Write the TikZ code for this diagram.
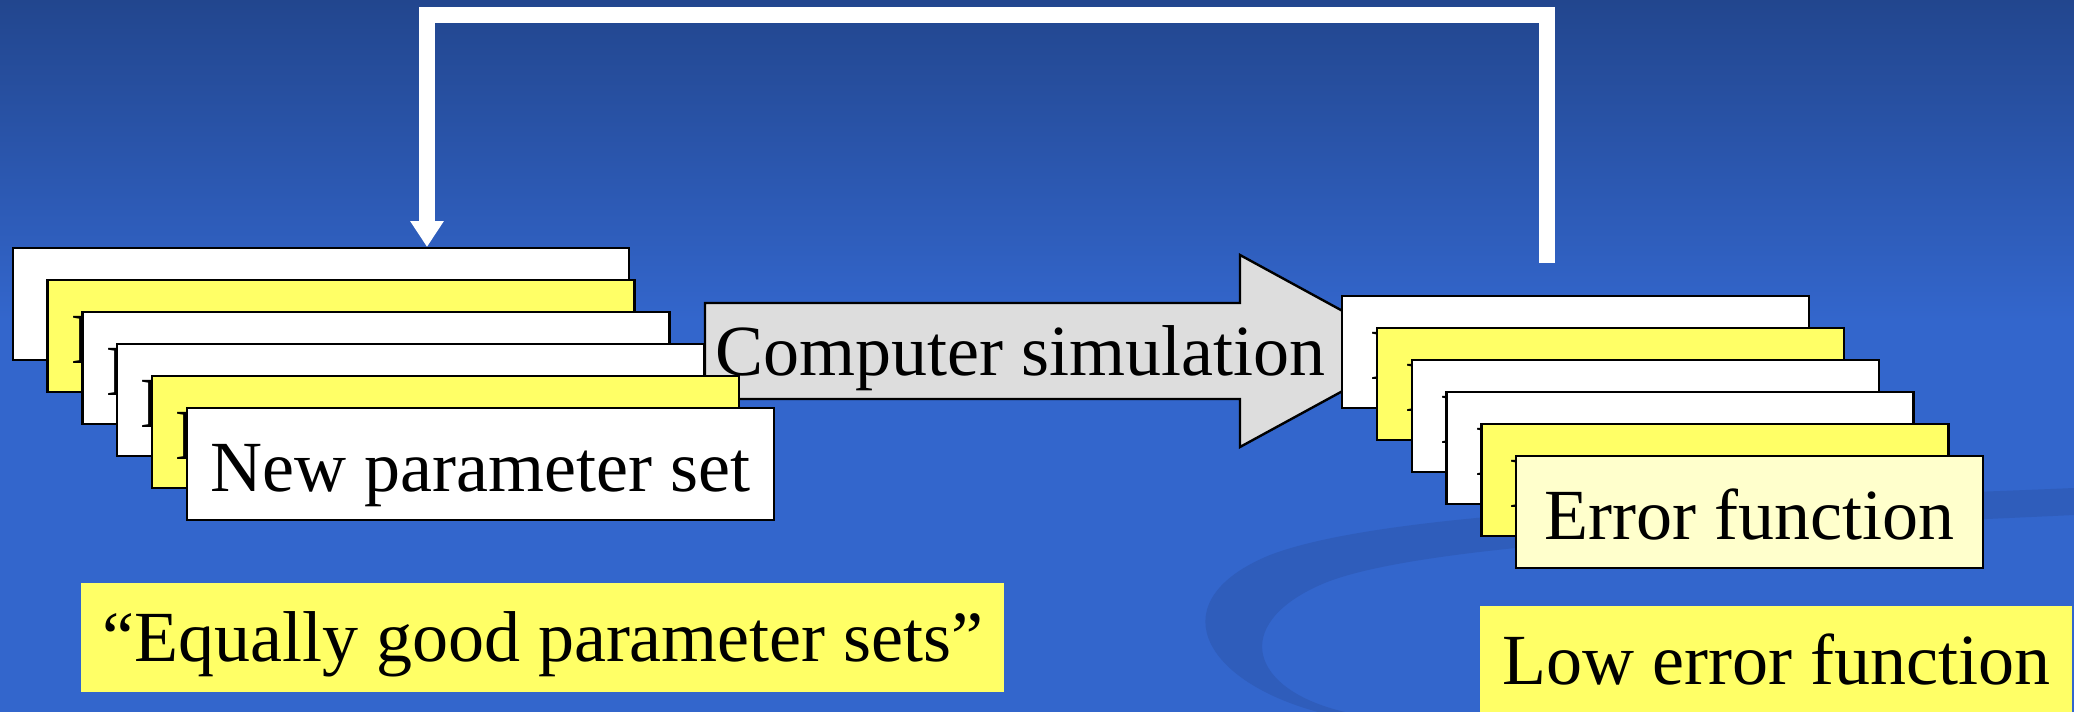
\documentclass[tikz,border=0pt]{standalone}
\usepackage{fontspec}
\setmainfont{Liberation Serif}
\usetikzlibrary{arrows.meta}
\definecolor{slideblue}{HTML}{3366CC}
\definecolor{slidetop}{HTML}{22468E}
\definecolor{swoosh}{HTML}{2F5DBB}
\definecolor{noteyellow}{HTML}{FFFF66}
\definecolor{paleyellow}{HTML}{FFFFCC}
\definecolor{simgray}{HTML}{DDDDDD}
\begin{document}
\begin{tikzpicture}[x=0.5pt,y=-0.5pt,
    font=\fontsize{36}{42}\selectfont,
    card/.style={draw=black, line width=1.2pt, anchor=north west, inner xsep=0pt, inner ysep=0pt,
      minimum height=56pt, text height=27pt, text depth=0pt},
    note/.style={fill=noteyellow, anchor=north west, inner xsep=11pt, inner ysep=0pt,
      text height=24pt, text depth=0pt},
    feedback/.style={draw=white, line width=8pt, -{Triangle[width=16pt,length=13pt]}}]
    \useasboundingbox (0,0) rectangle (2074,712);
    \fill[slideblue] (0,0) rectangle (2074,712);
    \shade[top color=slidetop, bottom color=slideblue] (0,0) rectangle (2074,320);
    \fill[swoosh] (1318,712) .. controls (1200,680) and (1160,600) .. (1270,555)
        .. controls (1400,505) and (1800,500) .. (2074,488) -- (2074,515)
        .. controls (1800,528) and (1420,540) .. (1320,585)
        .. controls (1230,625) and (1250,690) .. (1345,712) -- cycle;
    \draw[line width=1.2pt, fill=simgray] (705,303) -- (1240,303) -- (1240,255) -- (1416,351)
        -- (1240,447) -- (1240,399) -- (705,399) -- cycle;
    \node[anchor=west, inner sep=0pt, text height=24pt, text depth=0pt] (sim) at (715,351) {Computer simulation};
    \foreach \n/\c/\w in {1/white/308pt, 2/noteyellow/293.5pt, 3/white/293.5pt,
        4/white/293.5pt, 5/noteyellow/293.5pt, 6/white/293.5pt}
      \node[card, fill=\c, minimum width=\w] (p\n)
        at ({11.6+34.8*(\n-1)}, {247+32*(\n-1)}) {New parameter set};
    \foreach \n/\c in {1/white, 2/noteyellow, 3/white, 4/white, 5/noteyellow, 6/paleyellow}
      \node[card, fill=\c, minimum width=233.5pt] (e\n)
        at ({1341+34.8*(\n-1)}, {295+32*(\n-1)}) {Error function};
    \coordinate (fbstart) at (1547,263);
    \coordinate (fbturn) at (427,15);
    \draw[feedback] (fbstart) |- (fbturn) -- (fbturn |- p1.north);
    \node[note, minimum width=461.5pt, minimum height=54.5pt, inner xsep=0pt] (good) at (81,583) {“Equally good parameter sets”};
    \node[note, minimum height=54pt] (low) at (1480,606) {Low error function};
\end{tikzpicture}
\end{document}
